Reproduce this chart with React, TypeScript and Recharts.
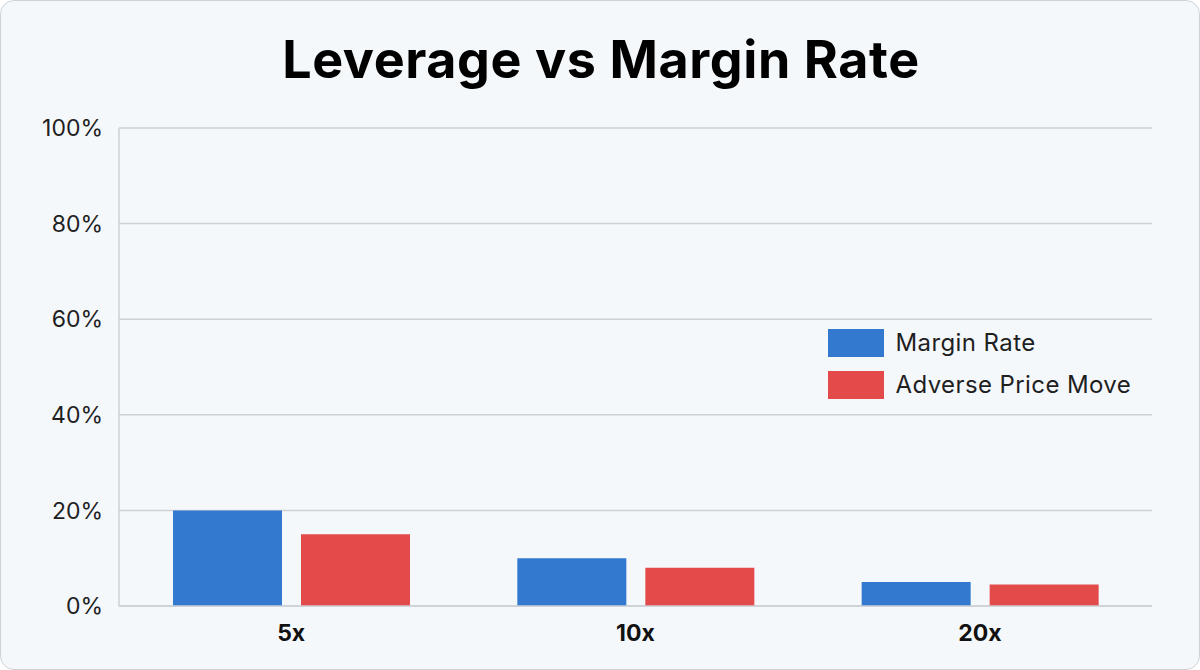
import { BarChart, Bar, XAxis, YAxis, CartesianGrid, Legend } from "recharts";

// values (percent)
const leverageLevels = ["5x", "10x", "20x"];
const seriesNames = ["Margin Rate", "Adverse Price Move"];
const marginRate = [20, 10, 5];
const adversePriceMove = [15, 8, 4.5];
const yTicks = [0, 20, 40, 60, 80, 100];

const BLUE = "#3279CF";
const RED = "#E34A4A";
const GRID = "#cdd1d6";
const FONT = "Inter, 'Noto Sans', sans-serif";

const chartData = leverageLevels.map((lev, i) => ({
  name: lev,
  [seriesNames[0]]: marginRate[i],
  [seriesNames[1]]: adversePriceMove[i],
}));

function LegendBox({ payload }: any) {
  // keep the series order instead of recharts' alphabetical sort
  const items = [...(payload || [])].sort(
    (a: any, b: any) => seriesNames.indexOf(a.value) - seriesNames.indexOf(b.value)
  );
  return (
    <div style={{ fontFamily: FONT, fontSize: 24, letterSpacing: 0.4, color: "#1f1f1f" }}>
      {items.map((item: any) => (
        <div
          key={item.value}
          style={{ display: "flex", alignItems: "center", height: 28, marginBottom: 14 }}
        >
          <span
            style={{
              display: "inline-block",
              width: 56,
              height: 28,
              background: item.color,
              marginRight: 12,
            }}
          />
          <span>{item.value}</span>
        </div>
      ))}
    </div>
  );
}

export default function App() {
  return (
    <div
      style={{
        position: "absolute",
        left: 0,
        top: 0,
        width: 1200,
        height: 670,
        boxSizing: "border-box",
        background: "#f5f8fb",
        border: "1.5px solid #cfd3d8",
        borderRadius: 14,
        overflow: "hidden",
      }}
    >
      <div
        style={{
          position: "absolute",
          left: 0,
          width: 1200,
          top: 33,
          textAlign: "center",
          fontFamily: FONT,
          fontWeight: 700,
          fontSize: 52,
          lineHeight: "52px",
          color: "#000",
          letterSpacing: 0.6,
        }}
      >
        Leverage vs Margin Rate
      </div>
      <div style={{ position: "absolute", left: -1.5, top: -1.5 }}>
        <BarChart
          width={1200}
          height={670}
          data={chartData}
          margin={{ top: 128, right: 48, bottom: 24, left: 19 }}
          barGap={19}
          barSize={109}
        >
          <CartesianGrid vertical={false} stroke={GRID} strokeWidth={1.5} />
          <XAxis
            dataKey="name"
            height={40}
            tickLine={false}
            axisLine={{ stroke: GRID, strokeWidth: 1.5 }}
            tickMargin={13}
            tick={{ fill: "#111", fontSize: 23, fontWeight: 700, fontFamily: FONT }}
          />
          <YAxis
            width={100}
            domain={[0, 100]}
            ticks={yTicks}
            tickFormatter={(v: number) => `${v}%`}
            tickLine={false}
            axisLine={{ stroke: GRID, strokeWidth: 1.5 }}
            tickMargin={10}
            tick={{ fill: "#1f1f1f", fontSize: 23, fontFamily: FONT }}
          />
          <Legend
            layout="vertical"
            align="center"
            verticalAlign="middle"
            content={<LegendBox />}
            wrapperStyle={{ position: "absolute", left: 828, top: 329, width: 340 }}
          />
          <Bar dataKey={seriesNames[0]} fill={BLUE} isAnimationActive={false} />
          <Bar dataKey={seriesNames[1]} fill={RED} isAnimationActive={false} />
        </BarChart>
      </div>
    </div>
  );
}
